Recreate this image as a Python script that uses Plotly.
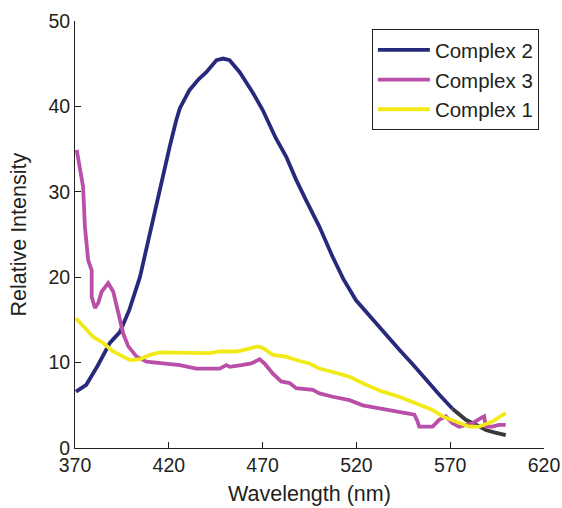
import plotly.graph_objects as go

# Complex 2
c2_x = [370.5, 376, 382, 388.6, 394, 399, 404.6, 410, 413.4, 420.5, 424, 425.9, 431, 436, 440, 445.4, 449, 452.4,
        457.8, 464.8, 470, 472.7, 477, 482.6, 487.9, 493.2, 500.3, 507.3, 513, 519.8, 526, 532.2, 542.9, 550, 557, 564, 571.2]
c2_y = [6.6, 7.4, 9.6, 12.3, 13.6, 16.2, 20.0, 25.2, 28.7, 35.3, 38.4, 39.8, 41.9, 43.2, 44.0, 45.4, 45.6, 45.4,
        44.0, 41.6, 39.6, 38.4, 36.3, 34.1, 31.4, 29.0, 25.9, 22.4, 19.8, 17.3, 15.7, 14.2, 11.5, 9.8, 8.0, 6.3, 4.6]
# Complex 2 tail (drawn dark grey in the reference)
c2t_x = [571.2, 578.3, 584, 589, 594, 599.6]
c2t_y = [4.6, 3.3, 2.7, 2.1, 1.8, 1.5]

# Complex 3
c3_x = [370.9, 372.7, 373.5, 374.3, 375.3, 377, 378.9, 378.9, 380.6, 382.4, 384.2, 387.7, 390.4, 393, 395.7, 398.4,
        402.8, 408.1, 414, 420.5, 425.9, 434.7, 441, 447.1, 450.7, 452.5, 458.7, 464, 468.4, 471, 475.5, 479.9, 484.4,
        487.9, 496.8, 500.3, 507.4, 516.3, 523.4, 534, 542.9, 550.9, 552.6, 553.5, 560.6, 564.1, 567.7, 571.2, 574.8,
        581.9, 586.3, 588.1, 589, 592.5, 596, 599.6]
c3_y = [34.9, 32.6, 31.5, 30.6, 25.9, 22.0, 20.8, 17.7, 16.4, 17.0, 18.3, 19.3, 18.3, 15.8, 13.4, 11.9,
        10.7, 10.1, 10.0, 9.9, 9.7, 9.3, 9.3, 9.3, 9.7, 9.5, 9.7, 9.9, 10.4, 9.9, 8.7, 7.8, 7.6,
        7.0, 6.8, 6.4, 6.0, 5.6, 5.0, 4.6, 4.25, 3.9, 3.1, 2.5, 2.5, 3.3, 3.7, 2.9, 2.5,
        2.9, 3.5, 3.7, 2.5, 2.5, 2.7, 2.7]

# Complex 1
c1_x = [370.5, 374.4, 379.7, 385, 390.4, 395.7, 399.3, 404.6, 409.9, 415.2, 424.1, 432.9, 441.8, 447.1, 456, 461.3,
        467.5, 470.2, 475.5, 482.6, 487.9, 495, 500.3, 507.4, 516.3, 525.2, 534, 542.9, 551.8, 560.6, 565.9, 573,
        580.1, 585.4, 592.5, 599.6]
c1_y = [15.2, 14.2, 13.0, 12.3, 11.3, 10.7, 10.3, 10.4, 10.9, 11.2, 11.2, 11.1, 11.1, 11.3, 11.3, 11.55,
        11.9, 11.7, 10.9, 10.7, 10.3, 9.9, 9.3, 8.9, 8.35, 7.4, 6.6, 6.0, 5.2, 4.45, 3.7, 3.1,
        2.5, 2.5, 3.1, 4.1]

x_ticks = [370, 420, 470, 520, 570, 620]
y_ticks = [0, 10, 20, 30, 40, 50]

C2 = "#272a7c"
C3 = "#b94fa8"
C1 = "#f2ea18"
TXT = "#231f20"
FAM = "Liberation Sans, Arial, sans-serif"
LW = 3.8

fig = go.Figure()
fig.add_trace(go.Scatter(x=c2_x, y=c2_y, mode="lines", name="Complex 2", legendgroup="g2",
                         line=dict(color=C2, width=LW), legendrank=1))
fig.add_trace(go.Scatter(x=c2t_x, y=c2t_y, mode="lines", name="Complex 2", showlegend=False, legendgroup="g2",
                         line=dict(color="#3a3a3a", width=LW)))
fig.add_trace(go.Scatter(x=c3_x, y=c3_y, mode="lines", name="Complex 3", legendgroup="g3",
                         line=dict(color=C3, width=LW), legendrank=2))
fig.add_trace(go.Scatter(x=c1_x, y=c1_y, mode="lines", name="Complex 1", legendgroup="g1",
                         line=dict(color=C1, width=LW), legendrank=3))

tick_font = dict(family=FAM, size=19.5, color=TXT)
title_font = dict(family=FAM, size=21.5, color=TXT)

fig.update_layout(
    width=562, height=508,
    margin=dict(l=75, r=18, t=21, b=60, autoexpand=False),
    paper_bgcolor="white", plot_bgcolor="white",
    font=tick_font,
    showlegend=True,
    legend=dict(x=0.633, y=0.981, xanchor="left", yanchor="top",
                bordercolor=TXT, borderwidth=1, bgcolor="white",
                font=dict(family=FAM, size=20.5, color=TXT),
                tracegroupgap=0, itemwidth=52),
    xaxis=dict(range=[370, 620], tickvals=x_ticks, ticktext=[str(v) for v in x_ticks],
               showgrid=False, zeroline=False, showline=True, linecolor=TXT, linewidth=1,
               ticks="inside", ticklen=6, tickcolor=TXT, tickfont=tick_font, automargin=False),
    yaxis=dict(range=[0, 50], tickvals=y_ticks, ticktext=[str(v) for v in y_ticks],
               showgrid=False, zeroline=False, showline=True, linecolor=TXT, linewidth=1,
               ticks="inside", ticklen=6, tickcolor=TXT, tickfont=tick_font, automargin=False),
    annotations=[
        dict(text="Wavelength (nm)", xref="paper", yref="paper", x=0.5, y=-0.108,
             xanchor="center", yanchor="middle", showarrow=False, font=title_font),
        dict(text="Relative Intensity", xref="paper", yref="paper", x=-0.1215, y=0.5,
             xanchor="center", yanchor="middle", showarrow=False, textangle=-90, font=title_font),
    ],
)

fig.write_html("out.html", config={"displayModeBar": False},
               post_script="document.body.style.margin='0';document.body.style.overflow='hidden';")
